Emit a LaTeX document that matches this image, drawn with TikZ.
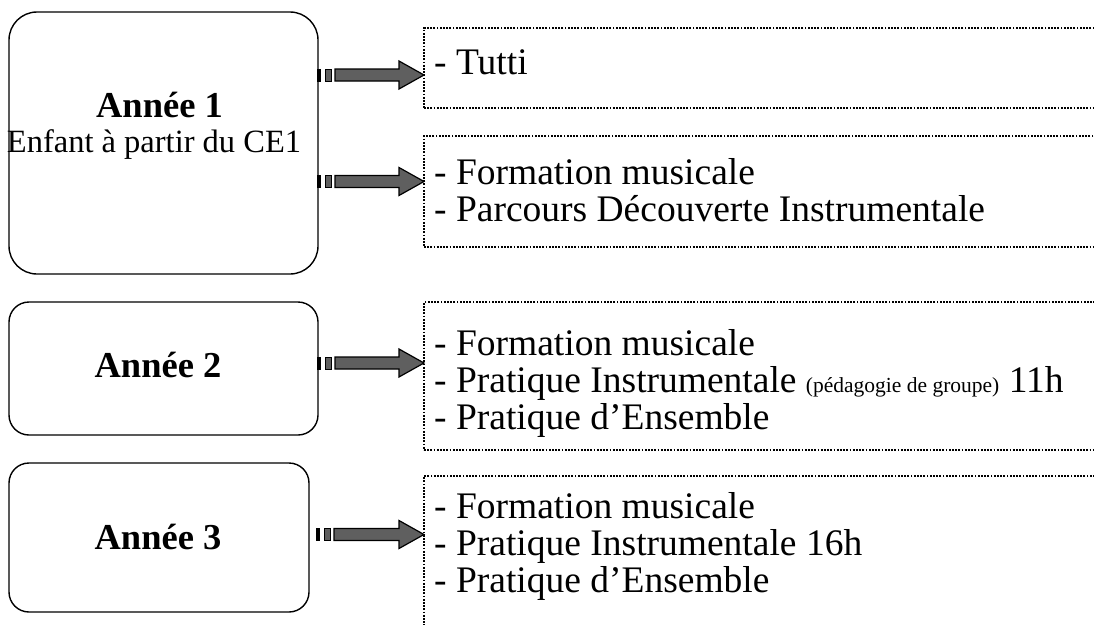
\documentclass[tikz,border=0pt]{standalone}
\usepackage{fontspec}
\setmainfont{Liberation Serif}
\usetikzlibrary{calc}

\definecolor{arrowgray}{HTML}{5F5F5F}

\tikzset{
  yearbox/.style={draw, line width=1.4pt, rounded corners=20pt, inner sep=0pt, outer sep=0pt},
  listbox/.style={draw, line width=1.8pt, dash pattern=on 1.8pt off 1.4pt, inner sep=0pt, outer sep=0pt, anchor=north west},
  listitem/.style={anchor=base west, inner sep=0pt, font=\fontsize{37.5}{38}\selectfont},
  yeartitle/.style={anchor=base, inner sep=0pt, font=\fontsize{36.5}{38}\selectfont\bfseries},
}

% striped block arrow: #1 tail, #2 node hit by the tip
\newcommand{\stripedarrow}[2]{%
  \fill let \p1=(#1) in (\x1,\y1-6.5pt) rectangle (\x1+4pt,\y1+6.5pt);
  \filldraw[fill=arrowgray, line width=1pt] let \p1=(#1) in (\x1+8.5pt,\y1-6pt) rectangle (\x1+14pt,\y1+6pt);
  \filldraw[fill=arrowgray, line width=1.2pt] let \p1=(#1), \p2=(#1 -| #2) in
    (\x1+18pt,\y1-6pt) -- (\x2-25pt,\y1-6pt) -- (\x2-25pt,\y1-14pt) -- (\x2,\y1)
    -- (\x2-25pt,\y1+14pt) -- (\x2-25pt,\y1+6pt) -- (\x1+18pt,\y1+6pt) -- cycle;
}

\begin{document}
\begin{tikzpicture}[x=1pt, y=-1pt]
    \useasboundingbox (0,0) rectangle (1094,624);
    \clip (0,0) rectangle (1094,624);

    % Draw year boxes
    \node[yearbox, minimum width=309pt, minimum height=262pt, rounded corners=28pt] (y1) at (163.5,143) {};
    \node[yearbox, minimum width=309pt, minimum height=133pt] (y2) at (163.5,368.5) {};
    \node[yearbox, minimum width=300pt, minimum height=149pt] (y3) at (159,537.5) {};

    \node[yeartitle] (y1t) at (159.5,117) {Année 1};
    \node[anchor=base, inner sep=0pt, font=\fontsize{32.5}{34}\selectfont] (y1s) at (154,152) {Enfant à partir du CE1};
    \node[yeartitle] (y2t) at (158,377) {Année 2};
    \node[yeartitle] (y3t) at (158,549) {Année 3};

    % Draw dotted lists
    \node[listbox, minimum width=700pt, minimum height=80pt] (r1) at (424,28) {};
    \node[listbox, minimum width=700pt, minimum height=111pt] (r2) at (424,136) {};
    \node[listbox, minimum width=700pt, minimum height=148pt] (r3) at (424,302) {};
    \node[listbox, minimum width=700pt, minimum height=170pt] (r4) at (424,476) {};

    \node[listitem] (r1a) at (434,74) {- Tutti};

    \node[listitem] (r2a) at (434,184) {- Formation musicale};
    \node[listitem] (r2b) at (434,221) {- Parcours Découverte Instrumentale};

    \node[listitem] (r3a) at (434,355) {- Formation musicale};
    \node[listitem] (r3b) at (434,392) {- Pratique Instrumentale {\fontsize{21.5}{22}\selectfont (pédagogie de groupe)} 11h};
    \node[listitem] (r3c) at (434,429) {- Pratique d’Ensemble};

    \node[listitem] (r4a) at (434,518) {- Formation musicale};
    \node[listitem] (r4b) at (434,555) {- Pratique Instrumentale 16h};
    \node[listitem] (r4c) at (434,592) {- Pratique d’Ensemble};

    % Draw arrows
    \coordinate (a1) at (317,75);
    \coordinate (a2) at (317,181.5);
    \coordinate (a3) at (317,363);
    \coordinate (a4) at (316,534.5);
    \stripedarrow{a1}{r1.west}
    \stripedarrow{a2}{r2.west}
    \stripedarrow{a3}{r3.west}
    \stripedarrow{a4}{r4.west}
\end{tikzpicture}
\end{document}
